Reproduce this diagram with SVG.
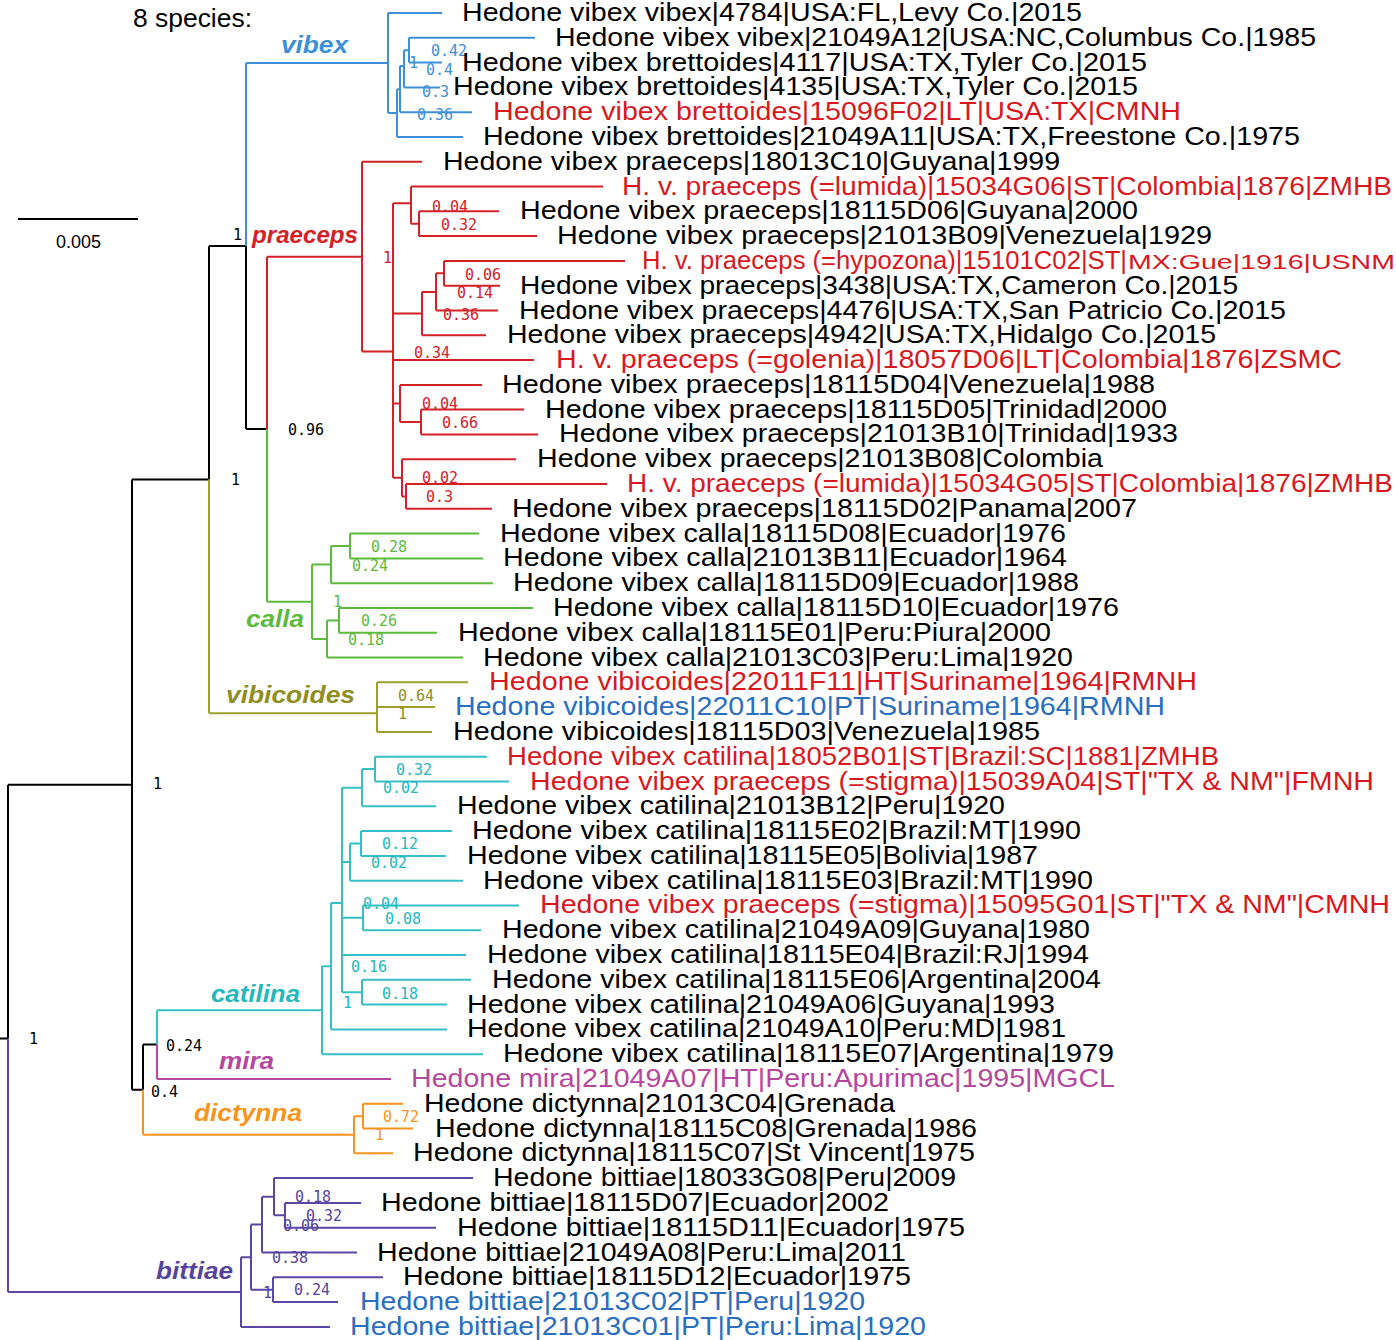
<svg xmlns="http://www.w3.org/2000/svg" width="1396" height="1340" viewBox="0 0 1396 1340">
<style>
.e{fill:none;stroke-width:2}
.k{stroke:#000}.bl{stroke:#3d8fd8}.rd{stroke:#d42027}.gr{stroke:#5cbb3c}.ol{stroke:#a09f2e}.cy{stroke:#35c0c8}.mg{stroke:#b5479e}.or{stroke:#f7941d}.pu{stroke:#5b46a5}
.t{font-family:"Liberation Sans",Arial,sans-serif;font-size:26px;fill:#000}
.r{fill:#d7191f}.b{fill:#2a6ebe}.m{fill:#b5479e}
.s{font-family:"DejaVu Sans Mono",monospace;font-size:15px}
.c{font-family:"Liberation Sans",Arial,sans-serif;font-size:24px;font-weight:bold;font-style:italic}
.sk{fill:#000}.sbl{fill:#3d8fd8}.srd{fill:#d42027}.sgr{fill:#5cbb3c}.sol{fill:#8f8e22}.scy{fill:#22b8bd}.smg{fill:#b5479e}.sor{fill:#f7941d}.spu{fill:#56449c}
</style>
<rect width="1396" height="1340" fill="#fff"/>
<g id="connectors">
<path class="e k" d="M0,1038.4H8M8,784.7V1038.4M8,784.7H132M132,479.6V1089.7M132,479.6H209M209,246V479.6M209,246H246M246,246V429M246,429H267M132,1089.7H143M143,1044.6V1089.7M143,1044.6H157M18,219H138"/>
<path class="e bl" d="M246,63V246M246,63H388M388,13V113M388,13H442M388,113H397M397,89.3V137M397,137H463M397,89.3H400M400,66V112.2M400,112.2H472M400,66H404M404,50.2V87.4M404,87.4H440M404,50.2H409M409,37.8V62.6M409,37.8H535M409,62.6H442"/>
<path class="e rd" d="M267,256.7V429M267,256.7H362M362,161.7V351.6M362,161.7H422M362,351.6H393M393,203.3V477.8M393,203.3H411M411,186.5V223.7M411,186.5H603M411,223.7H419M419,211.3V236.1M419,211.3H499M419,236.1H537M393,313.5H422M422,291.9V335.3M422,335.3H486M422,291.9H436M436,273.3V310.5M436,310.5H498M436,273.3H444M444,260.9V285.7M444,260.9H625M444,285.7H500M393,360.1H534M393,403.4H400M400,384.9V422M400,384.9H482M400,422H421M421,409.6V434.4M421,409.6H524M421,434.4H538M393,477.8H402M402,459.2V496.4M402,459.2H516M402,496.4H406M406,484V508.8M406,484H607M406,508.8H492"/>
<path class="e gr" d="M267,429V601.8M267,601.8H312M312,564.6V639M312,564.6H331M331,546V583.2M331,583.2H493M331,546H350M350,533.6V558.4M350,533.6H479M350,558.4H483M312,639H327M327,620.4V657.5M327,657.5H463M327,620.4H339M339,608V632.8M339,608H533M339,632.8H437"/>
<path class="e ol" d="M209,479.6V713.3M209,713.3H377M377,682.3V731.9M377,682.3H468M377,707.1H435M377,731.9H432"/>
<path class="e cy" d="M157,1010.2V1044.6M157,1010.2H322M322,966.2V1054.2M322,1054.2H483M322,966.2H331M331,903V1029.4M331,1029.4H447M331,903H342M342,787.7V992.2M342,787.7H362M362,769.1V806.3M362,806.3H436M362,769.1H375M375,756.7V781.5M375,756.7H487M375,781.5H509M342,862.1H350M350,843.5V880.7M350,880.7H463M350,843.5H361M361,831.1V855.9M361,831.1H452M361,855.9H446M342,917.8H363M363,905.4V930.2M363,905.4H519M363,930.2H481M342,955H466M342,992.2H362M362,979.8V1004.6M362,979.8H471M362,1004.6H447"/>
<path class="e mg" d="M157,1044.6V1079M157,1079H391"/>
<path class="e or" d="M143,1089.7V1134.8M143,1134.8H354M354,1116.2V1153.3M354,1153.3H393M354,1116.2H363M363,1103.8V1128.6M363,1103.8H403M363,1128.6H413"/>
<path class="e pu" d="M8,1038.4V1292M8,1292H241M241,1257.2V1326.9M241,1326.9H330M241,1257.2H251M251,1224.6V1289.7M251,1289.7H273M273,1277.3V1302.1M273,1277.3H383M273,1302.1H338M251,1224.6H262M262,1196.7V1252.5M262,1252.5H357M262,1196.7H274M274,1178.1V1215.3M274,1178.1H473M274,1215.3H285M285,1202.9V1227.7M285,1202.9H361M285,1227.7H436"/>
</g>
<g id="header">
<text class="t" x="133" y="27" textLength="119" lengthAdjust="spacingAndGlyphs">8 species:</text>
<text class="t" x="56" y="248" style="font-size:18px" textLength="45" lengthAdjust="spacingAndGlyphs">0.005</text>
</g>
<g id="support">
<g class="s sbl"><text x="431" y="56">0.42</text><text x="409" y="68">1</text><text x="426" y="75">0.4</text><text x="422" y="97">0.3</text><text x="417" y="120">0.36</text></g>
<g class="s sk"><text x="233" y="240">1</text><text x="288" y="435">0.96</text><text x="231" y="485">1</text><text x="153" y="789">1</text><text x="29" y="1044">1</text><text x="166" y="1051">0.24</text><text x="151" y="1097">0.4</text></g>
<g class="s srd"><text x="432" y="212">0.04</text><text x="441" y="230">0.32</text><text x="383" y="263">1</text><text x="465" y="280">0.06</text><text x="457" y="298">0.14</text><text x="443" y="320">0.36</text><text x="414" y="358">0.34</text><text x="422" y="409">0.04</text><text x="442" y="428">0.66</text><text x="422" y="483">0.02</text><text x="426" y="502">0.3</text></g>
<g class="s sgr"><text x="371" y="552">0.28</text><text x="352" y="571">0.24</text><text x="333" y="607">1</text><text x="361" y="626">0.26</text><text x="348" y="645">0.18</text></g>
<g class="s sol"><text x="398" y="701">0.64</text><text x="398" y="719">1</text></g>
<g class="s scy"><text x="396" y="775">0.32</text><text x="383" y="793">0.02</text><text x="382" y="849">0.12</text><text x="371" y="868">0.02</text><text x="363" y="909">0.04</text><text x="385" y="924">0.08</text><text x="351" y="972">0.16</text><text x="382" y="999">0.18</text><text x="343" y="1008">1</text></g>
<g class="s sor"><text x="383" y="1122">0.72</text><text x="375" y="1140">1</text></g>
<g class="s spu"><text x="295" y="1202">0.18</text><text x="306" y="1221">0.32</text><text x="283" y="1231">0.06</text><text x="272" y="1263">0.38</text><text x="263" y="1298">1</text><text x="294" y="1295">0.24</text></g>
</g>
<g id="clades">
<g id="clade-vibex"><text class="c sbl" x="281" y="53" textLength="67" lengthAdjust="spacingAndGlyphs">vibex</text></g>
<g id="clade-praeceps"><text class="c srd" x="252" y="243" textLength="106" lengthAdjust="spacingAndGlyphs">praeceps</text></g>
<g id="clade-calla"><text class="c sgr" x="246" y="627" textLength="58" lengthAdjust="spacingAndGlyphs">calla</text></g>
<g id="clade-vibicoides"><text class="c sol" x="226" y="703" textLength="129" lengthAdjust="spacingAndGlyphs">vibicoides</text></g>
<g id="clade-catilina"><text class="c scy" x="211" y="1002" textLength="89" lengthAdjust="spacingAndGlyphs">catilina</text></g>
<g id="clade-mira"><text class="c smg" x="219" y="1069" textLength="55" lengthAdjust="spacingAndGlyphs">mira</text></g>
<g id="clade-dictynna"><text class="c sor" x="194" y="1121" textLength="108" lengthAdjust="spacingAndGlyphs">dictynna</text></g>
<g id="clade-bittiae"><text class="c spu" x="156" y="1279" textLength="77" lengthAdjust="spacingAndGlyphs">bittiae</text></g>
</g>
<g id="tips">
<g id="tip1"><text class="t" x="462" y="21" textLength="620" lengthAdjust="spacingAndGlyphs">Hedone vibex vibex|4784|USA:FL,Levy Co.|2015</text></g>
<g id="tip2"><text class="t" x="555" y="45.8" textLength="761" lengthAdjust="spacingAndGlyphs">Hedone vibex vibex|21049A12|USA:NC,Columbus Co.|1985</text></g>
<g id="tip3"><text class="t" x="462" y="70.6" textLength="685" lengthAdjust="spacingAndGlyphs">Hedone vibex brettoides|4117|USA:TX,Tyler Co.|2015</text></g>
<g id="tip4"><text class="t" x="453" y="95.4" textLength="685" lengthAdjust="spacingAndGlyphs">Hedone vibex brettoides|4135|USA:TX,Tyler Co.|2015</text></g>
<g id="tip5"><text class="t r" x="493" y="120.2" textLength="688" lengthAdjust="spacingAndGlyphs">Hedone vibex brettoides|15096F02|LT|USA:TX|CMNH</text></g>
<g id="tip6"><text class="t" x="483" y="145" textLength="817" lengthAdjust="spacingAndGlyphs">Hedone vibex brettoides|21049A11|USA:TX,Freestone Co.|1975</text></g>
<g id="tip7"><text class="t" x="443" y="169.7" textLength="617" lengthAdjust="spacingAndGlyphs">Hedone vibex praeceps|18013C10|Guyana|1999</text></g>
<g id="tip8"><text class="t r" x="622" y="194.5" textLength="770" lengthAdjust="spacingAndGlyphs">H. v. praeceps (=lumida)|15034G06|ST|Colombia|1876|ZMHB</text></g>
<g id="tip9"><text class="t" x="520" y="219.3" textLength="618" lengthAdjust="spacingAndGlyphs">Hedone vibex praeceps|18115D06|Guyana|2000</text></g>
<g id="tip10"><text class="t" x="557" y="244.1" textLength="655" lengthAdjust="spacingAndGlyphs">Hedone vibex praeceps|21013B09|Venezuela|1929</text></g>
<g id="tip11"><text class="t r" x="642" y="268.9" textLength="485" lengthAdjust="spacingAndGlyphs">H. v. praeceps (=hypozona)|15101C02|ST|</text><text class="t r" x="1128" y="268.9" style="font-size:21px" textLength="267" lengthAdjust="spacingAndGlyphs">MX:Gue|1916|USNM</text></g>
<g id="tip12"><text class="t" x="520" y="293.7" textLength="718" lengthAdjust="spacingAndGlyphs">Hedone vibex praeceps|3438|USA:TX,Cameron Co.|2015</text></g>
<g id="tip13"><text class="t" x="519" y="318.5" textLength="767" lengthAdjust="spacingAndGlyphs">Hedone vibex praeceps|4476|USA:TX,San Patricio Co.|2015</text></g>
<g id="tip14"><text class="t" x="507" y="343.3" textLength="709" lengthAdjust="spacingAndGlyphs">Hedone vibex praeceps|4942|USA:TX,Hidalgo Co.|2015</text></g>
<g id="tip15"><text class="t r" x="556" y="368.1" textLength="786" lengthAdjust="spacingAndGlyphs">H. v. praeceps (=golenia)|18057D06|LT|Colombia|1876|ZSMC</text></g>
<g id="tip16"><text class="t" x="502" y="392.9" textLength="653" lengthAdjust="spacingAndGlyphs">Hedone vibex praeceps|18115D04|Venezuela|1988</text></g>
<g id="tip17"><text class="t" x="545" y="417.6" textLength="622" lengthAdjust="spacingAndGlyphs">Hedone vibex praeceps|18115D05|Trinidad|2000</text></g>
<g id="tip18"><text class="t" x="559" y="442.4" textLength="619" lengthAdjust="spacingAndGlyphs">Hedone vibex praeceps|21013B10|Trinidad|1933</text></g>
<g id="tip19"><text class="t" x="537" y="467.2" textLength="566" lengthAdjust="spacingAndGlyphs">Hedone vibex praeceps|21013B08|Colombia</text></g>
<g id="tip20"><text class="t r" x="627" y="492" textLength="766" lengthAdjust="spacingAndGlyphs">H. v. praeceps (=lumida)|15034G05|ST|Colombia|1876|ZMHB</text></g>
<g id="tip21"><text class="t" x="512" y="516.8" textLength="625" lengthAdjust="spacingAndGlyphs">Hedone vibex praeceps|18115D02|Panama|2007</text></g>
<g id="tip22"><text class="t" x="500" y="541.6" textLength="566" lengthAdjust="spacingAndGlyphs">Hedone vibex calla|18115D08|Ecuador|1976</text></g>
<g id="tip23"><text class="t" x="503" y="566.4" textLength="564" lengthAdjust="spacingAndGlyphs">Hedone vibex calla|21013B11|Ecuador|1964</text></g>
<g id="tip24"><text class="t" x="513" y="591.2" textLength="566" lengthAdjust="spacingAndGlyphs">Hedone vibex calla|18115D09|Ecuador|1988</text></g>
<g id="tip25"><text class="t" x="553" y="616" textLength="566" lengthAdjust="spacingAndGlyphs">Hedone vibex calla|18115D10|Ecuador|1976</text></g>
<g id="tip26"><text class="t" x="458" y="640.8" textLength="593" lengthAdjust="spacingAndGlyphs">Hedone vibex calla|18115E01|Peru:Piura|2000</text></g>
<g id="tip27"><text class="t" x="483" y="665.5" textLength="590" lengthAdjust="spacingAndGlyphs">Hedone vibex calla|21013C03|Peru:Lima|1920</text></g>
<g id="tip28"><text class="t r" x="489" y="690.3" textLength="708" lengthAdjust="spacingAndGlyphs">Hedone vibicoides|22011F11|HT|Suriname|1964|RMNH</text></g>
<g id="tip29"><text class="t b" x="455" y="715.1" textLength="710" lengthAdjust="spacingAndGlyphs">Hedone vibicoides|22011C10|PT|Suriname|1964|RMNH</text></g>
<g id="tip30"><text class="t" x="453" y="739.9" textLength="587" lengthAdjust="spacingAndGlyphs">Hedone vibicoides|18115D03|Venezuela|1985</text></g>
<g id="tip31"><text class="t r" x="507" y="764.7" textLength="712" lengthAdjust="spacingAndGlyphs">Hedone vibex catilina|18052B01|ST|Brazil:SC|1881|ZMHB</text></g>
<g id="tip32"><text class="t r" x="530" y="789.5" textLength="844" lengthAdjust="spacingAndGlyphs">Hedone vibex praeceps (=stigma)|15039A04|ST|"TX &amp; NM"|FMNH</text></g>
<g id="tip33"><text class="t" x="457" y="814.3" textLength="548" lengthAdjust="spacingAndGlyphs">Hedone vibex catilina|21013B12|Peru|1920</text></g>
<g id="tip34"><text class="t" x="472" y="839.1" textLength="609" lengthAdjust="spacingAndGlyphs">Hedone vibex catilina|18115E02|Brazil:MT|1990</text></g>
<g id="tip35"><text class="t" x="467" y="863.9" textLength="571" lengthAdjust="spacingAndGlyphs">Hedone vibex catilina|18115E05|Bolivia|1987</text></g>
<g id="tip36"><text class="t" x="483" y="888.7" textLength="610" lengthAdjust="spacingAndGlyphs">Hedone vibex catilina|18115E03|Brazil:MT|1990</text></g>
<g id="tip37"><text class="t r" x="540" y="913.4" textLength="850" lengthAdjust="spacingAndGlyphs">Hedone vibex praeceps (=stigma)|15095G01|ST|"TX &amp; NM"|CMNH</text></g>
<g id="tip38"><text class="t" x="502" y="938.2" textLength="588" lengthAdjust="spacingAndGlyphs">Hedone vibex catilina|21049A09|Guyana|1980</text></g>
<g id="tip39"><text class="t" x="487" y="963" textLength="602" lengthAdjust="spacingAndGlyphs">Hedone vibex catilina|18115E04|Brazil:RJ|1994</text></g>
<g id="tip40"><text class="t" x="492" y="987.8" textLength="609" lengthAdjust="spacingAndGlyphs">Hedone vibex catilina|18115E06|Argentina|2004</text></g>
<g id="tip41"><text class="t" x="467" y="1012.6" textLength="588" lengthAdjust="spacingAndGlyphs">Hedone vibex catilina|21049A06|Guyana|1993</text></g>
<g id="tip42"><text class="t" x="467" y="1037.4" textLength="599" lengthAdjust="spacingAndGlyphs">Hedone vibex catilina|21049A10|Peru:MD|1981</text></g>
<g id="tip43"><text class="t" x="503" y="1062.2" textLength="611" lengthAdjust="spacingAndGlyphs">Hedone vibex catilina|18115E07|Argentina|1979</text></g>
<g id="tip44"><text class="t m" x="411" y="1087" textLength="704" lengthAdjust="spacingAndGlyphs">Hedone mira|21049A07|HT|Peru:Apurimac|1995|MGCL</text></g>
<g id="tip45"><text class="t" x="424" y="1111.8" textLength="471" lengthAdjust="spacingAndGlyphs">Hedone dictynna|21013C04|Grenada</text></g>
<g id="tip46"><text class="t" x="435" y="1136.6" textLength="542" lengthAdjust="spacingAndGlyphs">Hedone dictynna|18115C08|Grenada|1986</text></g>
<g id="tip47"><text class="t" x="413" y="1161.3" textLength="562" lengthAdjust="spacingAndGlyphs">Hedone dictynna|18115C07|St Vincent|1975</text></g>
<g id="tip48"><text class="t" x="493" y="1186.1" textLength="463" lengthAdjust="spacingAndGlyphs">Hedone bittiae|18033G08|Peru|2009</text></g>
<g id="tip49"><text class="t" x="381" y="1210.9" textLength="508" lengthAdjust="spacingAndGlyphs">Hedone bittiae|18115D07|Ecuador|2002</text></g>
<g id="tip50"><text class="t" x="457" y="1235.7" textLength="508" lengthAdjust="spacingAndGlyphs">Hedone bittiae|18115D11|Ecuador|1975</text></g>
<g id="tip51"><text class="t" x="377" y="1260.5" textLength="529" lengthAdjust="spacingAndGlyphs">Hedone bittiae|21049A08|Peru:Lima|2011</text></g>
<g id="tip52"><text class="t" x="403" y="1285.3" textLength="508" lengthAdjust="spacingAndGlyphs">Hedone bittiae|18115D12|Ecuador|1975</text></g>
<g id="tip53"><text class="t b" x="360" y="1310.1" textLength="505" lengthAdjust="spacingAndGlyphs">Hedone bittiae|21013C02|PT|Peru|1920</text></g>
<g id="tip54"><text class="t b" x="350" y="1334.9" textLength="576" lengthAdjust="spacingAndGlyphs">Hedone bittiae|21013C01|PT|Peru:Lima|1920</text></g>
</g>
</svg>
